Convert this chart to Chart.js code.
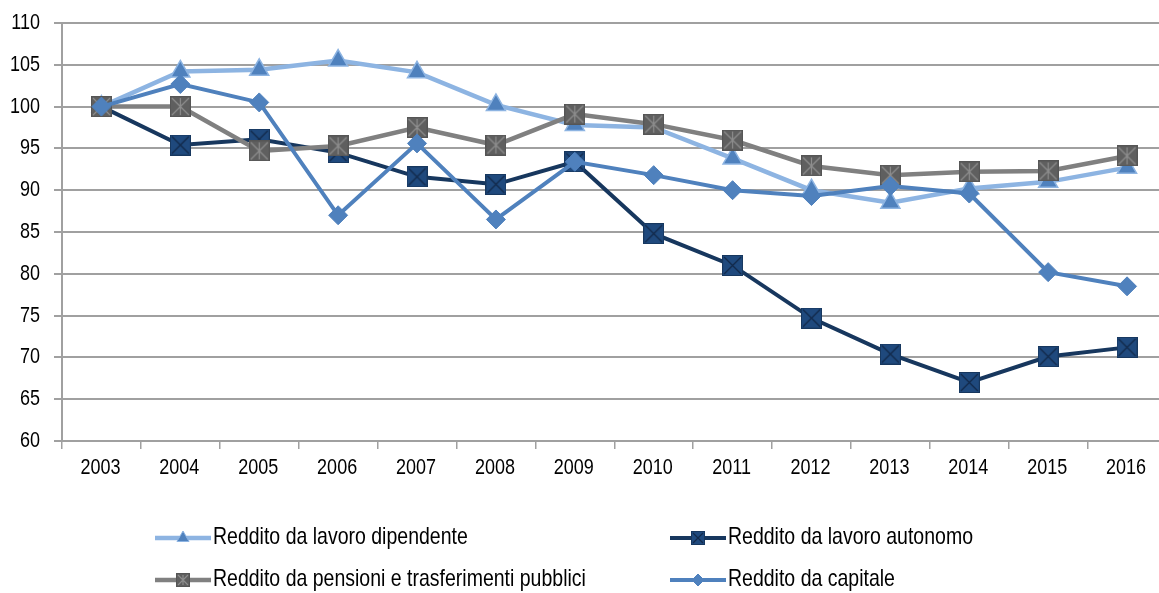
<!DOCTYPE html>
<html>
<head>
	<meta charset="utf-8">
	<title>Redditi per fonte, 2003-2016</title>
	<style>
		html, body {margin: 0; padding: 0; background: #fff; overflow: hidden;}
		#wrap {width: 1181px; height: 593px;}
	</style>
</head>
<body>
<div id="wrap">
	<canvas id="myChart" width="1181" height="593"></canvas>
</div>
<script src="https://cdn.jsdelivr.net/npm/chart.js@4.4.1/dist/chart.umd.min.js"></script>
<script>

// indice 2003 = 100
var anni = ['2003','2004','2005','2006','2007','2008','2009','2010','2011','2012','2013','2014','2015','2016'];
var lavoroDipendente = [100, 104.2, 104.4, 105.5, 104.1, 100.2, 97.8, 97.5, 93.8, 90.0, 88.5, 90.2, 91.0, 92.7];
var lavoroAutonomo = [100, 95.4, 96.1, 94.5, 91.6, 90.7, 93.4, 84.8, 81.0, 74.7, 70.4, 67.0, 70.1, 71.2];
var pensioni = [100, 100, 94.7, 95.3, 97.5, 95.4, 99.1, 97.9, 96.0, 92.9, 91.8, 92.2, 92.3, 94.1];
var capitale = [100, 102.7, 100.5, 87.0, 95.6, 86.5, 93.4, 91.8, 90.0, 89.3, 90.5, 89.6, 80.2, 78.5];
var yTicks = [60, 65, 70, 75, 80, 85, 90, 95, 100, 105, 110];

var FONT = '"Liberation Sans", Arial, sans-serif';
var STRETCH = 1.2; // testo un po' allungato in verticale

// quadrato con croce (e barra verticale per le pensioni)
function boxMarker(size, fill, edge, cross, bar) {
	var c = document.createElement('canvas');
	c.width = size; c.height = size;
	var g = c.getContext('2d');
	g.fillStyle = fill;
	g.fillRect(0, 0, size, size);
	g.strokeStyle = edge;
	g.lineWidth = 1;
	g.strokeRect(0.5, 0.5, size - 1, size - 1);
	g.strokeStyle = cross;
	g.lineWidth = 1.2;
	g.beginPath();
	g.moveTo(2, 2); g.lineTo(size - 2, size - 2);
	g.moveTo(size - 2, 2); g.lineTo(2, size - 2);
	if (bar) {
		g.moveTo(size / 2, 2); g.lineTo(size / 2, size - 2);
	}
	g.stroke();
	return c;
}

var sqAutonomo = boxMarker(21, '#1F497D', '#17375E', '#12294a', false);
var sqPensioni = boxMarker(21, '#5F5F5F', '#555555', '#8E8E8E', true);
var sqAutonomoSmall = boxMarker(14, '#1F497D', '#17375E', '#12294a', false);
var sqPensioniSmall = boxMarker(14, '#5F5F5F', '#555555', '#8E8E8E', true);

var datasets = [
	{
		label: 'Reddito da lavoro dipendente',
		data: lavoroDipendente,
		borderColor: '#8DB4E2',
		borderWidth: 4.5,
		pointStyle: 'triangle',
		pointRadius: 11,
		pointBackgroundColor: '#4F81BD',
		pointBorderColor: '#8DB4E2',
		pointBorderWidth: 1.5,
		legendPoint: {style: 'triangle', radius: 7},
		order: 4
	},
	{
		label: 'Reddito da lavoro autonomo',
		data: lavoroAutonomo,
		borderColor: '#17375E',
		borderWidth: 4,
		pointStyle: sqAutonomo,
		pointRadius: 10,
		legendPoint: {style: sqAutonomoSmall},
		order: 3
	},
	{
		label: 'Reddito da pensioni e trasferimenti pubblici',
		data: pensioni,
		borderColor: '#808080',
		borderWidth: 4.5,
		pointStyle: sqPensioni,
		pointRadius: 10,
		legendPoint: {style: sqPensioniSmall},
		order: 2
	},
	{
		label: 'Reddito da capitale',
		data: capitale,
		borderColor: '#4F81BD',
		borderWidth: 4,
		pointStyle: 'rectRot',
		pointRadius: 9.5,
		pointBackgroundColor: '#4F81BD',
		pointBorderColor: '#4F81BD',
		pointBorderWidth: 1,
		legendPoint: {style: 'rectRot', radius: 6},
		order: 1
	}
];

function tallText(ctx, text, x, y, align) {
	ctx.save();
	ctx.translate(x, y);
	ctx.scale(1, STRETCH);
	ctx.textAlign = align;
	ctx.textBaseline = 'middle';
	ctx.fillText(text, 0, 0);
	ctx.restore();
}

// etichette degli assi
var etichettePlugin = {
	id: 'etichette',
	afterDraw: function(chart) {
		var ctx = chart.ctx;
		var sx = chart.scales.x, sy = chart.scales.y;
		ctx.save();
		ctx.fillStyle = '#000';
		ctx.font = '18px ' + FONT;
		yTicks.forEach(function(v) {
			tallText(ctx, String(v), sy.right - 22, sy.getPixelForValue(v), 'right');
		});
		anni.forEach(function(a, i) {
			tallText(ctx, a, sx.getPixelForValue(i) - 1, sx.top + 27, 'center');
		});
		ctx.restore();
	}
};

// legenda su due colonne sotto il grafico
var legendaPlugin = {
	id: 'legenda',
	afterDraw: function(chart) {
		var ctx = chart.ctx;
		var cols = [155, 670];
		var rows = [538, 580];
		var sets = chart.data.datasets;
		ctx.save();
		for (var i = 0; i < sets.length; i++) {
			var ds = sets[i];
			var x = cols[i % 2];
			var y = rows[Math.floor(i / 2)];
			ctx.strokeStyle = ds.borderColor;
			ctx.lineWidth = ds.borderWidth;
			ctx.beginPath();
			ctx.moveTo(x, y);
			ctx.lineTo(x + 56, y);
			ctx.stroke();
			var lp = ds.legendPoint;
			if (typeof lp.style === 'string') {
				ctx.fillStyle = ds.pointBackgroundColor;
				ctx.strokeStyle = ds.pointBorderColor;
				ctx.lineWidth = 1;
				Chart.helpers.drawPoint(ctx, {pointStyle: lp.style, radius: lp.radius, borderWidth: 1, rotation: 0}, x + 28, y);
			} else {
				ctx.drawImage(lp.style, x + 28 - lp.style.width / 2, y - lp.style.height / 2);
			}
			ctx.fillStyle = '#000';
			ctx.font = '19.5px ' + FONT;
			tallText(ctx, ds.label, x + 58, y, 'left');
		}
		ctx.restore();
	}
};

var ctx = document.getElementById('myChart').getContext('2d');
var chart = new Chart(ctx, {
	type: 'line',
	data: {
		labels: anni,
		datasets: datasets
	},
	options: {
		responsive: false,
		animation: false,
		devicePixelRatio: 1,
		layout: {padding: {top: 23, right: 1, bottom: 110, left: 0}},
		elements: {line: {tension: 0, fill: false}},
		plugins: {
			legend: {display: false},
			tooltip: {enabled: false}
		},
		scales: {
			x: {
				offset: true,
				grid: {offset: true, drawOnChartArea: false, drawTicks: true, tickLength: 8, color: '#A0A0A0', lineWidth: 1.5},
				border: {color: '#A0A0A0', width: 2},
				ticks: {display: false},
				afterFit: function(s) { s.height = 42; }
			},
			y: {
				min: 60,
				max: 110,
				afterBuildTicks: function(s) { s.ticks = yTicks.map(function(v) { return {value: v}; }); },
				grid: {color: '#A0A0A0', lineWidth: 2, tickLength: 8},
				border: {color: '#A0A0A0', width: 2},
				ticks: {display: false},
				afterFit: function(s) { s.width = 62; }
			}
		}
	},
	plugins: [etichettePlugin, legendaPlugin]
});
</script>
</body>
</html>
